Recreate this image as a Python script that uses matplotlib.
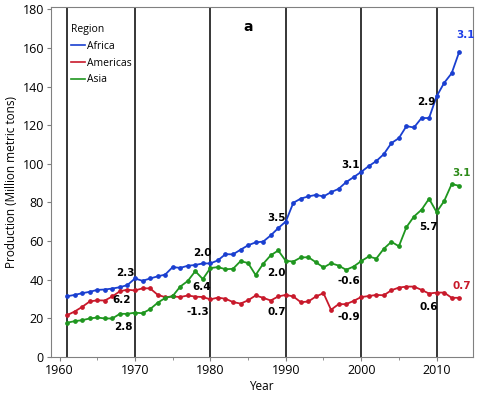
import numpy as np
import matplotlib
matplotlib.use("Agg")
import matplotlib.pyplot as plt
from matplotlib.ticker import MultipleLocator

# Data
years = np.arange(1961, 2014)

africa = [31.4, 32.1, 33.0, 33.7, 34.7, 34.9, 35.4, 36.1, 37.2, 40.6,
          39.4, 40.6, 41.7, 42.6, 46.5, 46.1, 47.2, 47.6, 48.4, 48.4,
          50.0, 53.2, 53.1, 55.5, 57.8, 59.3, 59.7, 62.9, 66.7, 70.1,
          79.8, 82.0, 83.1, 83.9, 83.1, 85.3, 87.0, 90.5, 93.1, 95.8,
          98.8, 101.4, 105.0, 110.7, 113.3, 119.5, 118.8, 123.7, 123.7, 134.9,
          141.9, 146.9, 158.0]

americas = [21.6, 23.5, 25.9, 28.7, 29.3, 29.2, 31.3, 34.0, 34.8, 34.4,
            35.5, 35.5, 32.2, 30.9, 31.3, 31.0, 31.8, 31.2, 31.0, 29.8,
            30.7, 30.1, 28.4, 27.6, 29.3, 31.8, 30.6, 29.2, 31.3, 32.1,
            31.3, 28.3, 28.7, 31.3, 33.0, 24.4, 27.3, 27.3, 29.0, 31.0,
            31.5, 32.1, 31.9, 34.5, 35.9, 36.4, 36.4, 34.7, 32.8, 33.3,
            33.3, 30.6, 30.6]

asia = [17.7, 18.5, 19.0, 19.9, 20.4, 19.9, 19.9, 22.3, 22.3, 22.9,
        22.6, 24.7, 28.0, 30.5, 31.5, 36.4, 39.3, 44.4, 40.3, 46.0,
        46.5, 45.4, 45.6, 49.6, 48.6, 42.4, 48.2, 52.6, 55.1, 49.7,
        49.4, 51.5, 51.6, 49.0, 46.3, 48.5, 47.3, 45.1, 46.8, 49.6,
        52.0, 50.9, 56.0, 59.6, 57.3, 67.2, 72.7, 76.2, 81.9, 75.0,
        80.7, 89.5, 88.6]

decades = [1961, 1970, 1980, 1990, 2000, 2010]

# growth rate labels: (x, y, text, colour)
labels = [
    (1968.7, 43.5, "2.3", "black"), (1968.2, 29.5, "6.2", "black"), (1968.5, 15.5, "2.8", "black"),
    (1978.9, 54.0, "2.0", "black"), (1978.9, 36.0, "6.4", "black"), (1978.3, 23.0, "-1.3", "black"),
    (1988.8, 72.0, "3.5", "black"), (1988.8, 43.5, "2.0", "black"), (1988.8, 23.3, "0.7", "black"),
    (1998.6, 99.5, "3.1", "black"), (1998.4, 39.5, "-0.6", "black"), (1998.4, 20.7, "-0.9", "black"),
    (2008.7, 131.8, "2.9", "black"), (2008.9, 67.5, "5.7", "black"), (2008.9, 26.0, "0.6", "black"),
    (2013.8, 166.5, "3.1", "#1f3fe8"), (2013.3, 95.0, "3.1", "#2e8b1a"), (2013.3, 36.5, "0.7", "#c81a2a"),
]

blue = "#1a3fd0"
red = "#c8192b"
green = "#1f961f"

plt.rcParams['font.family'] = ['Open Sans', 'DejaVu Sans']

fig = plt.figure(figsize=(4.8, 4.01), dpi=100)
ax = fig.add_axes([0.106, 0.110, 0.879, 0.873])

for x in decades:
    ax.axvline(x, color="black", linewidth=1.1, zorder=1)

ax.plot(years, africa, color=blue, marker="o", markersize=2.4, linewidth=1.3, label="Africa", zorder=3)
ax.plot(years, americas, color=red, marker="o", markersize=2.4, linewidth=1.3, label="Americas", zorder=3)
ax.plot(years, asia, color=green, marker="o", markersize=2.4, linewidth=1.3, label="Asia", zorder=3)

for x, y, t, c in labels:
    ax.text(x, y, t, color=c, fontsize=7.5, fontweight="bold", ha="center", va="center", family="DejaVu Sans")

ax.text(1985, 171, "a", fontsize=10, fontweight="bold", ha="center", va="center", family="DejaVu Sans")

ax.set_xlim(1958.85, 2014.8)
ax.set_ylim(0, 181.3)
ax.set_yticks(np.arange(0, 181, 20))
ax.set_xticks([1960, 1970, 1980, 1990, 2000, 2010])
ax.xaxis.set_minor_locator(MultipleLocator(5))
ax.tick_params(labelsize=9, color="#808080", length=3, pad=2)
ax.tick_params(which="minor", color="#808080", length=2)
for s in ax.spines.values():
    s.set_color("#808080")

ax.set_xlabel("Year", fontsize=8.5, labelpad=2)
ax.set_ylabel("Production (Million metric tons)", fontsize=8.5, labelpad=3)

leg = ax.legend(title="Region", loc="upper left", bbox_to_anchor=(0.034, 0.968), frameon=False,
                fontsize=7.5, title_fontsize=7.5, handlelength=1.3, handletextpad=0.15,
                labelspacing=0.55, borderaxespad=0.2)
leg._legend_box.align = "left"
for line in leg.get_lines():
    line.set_marker("")
    line.set_linewidth(1.2)

fig.savefig("out.png", dpi=100)
